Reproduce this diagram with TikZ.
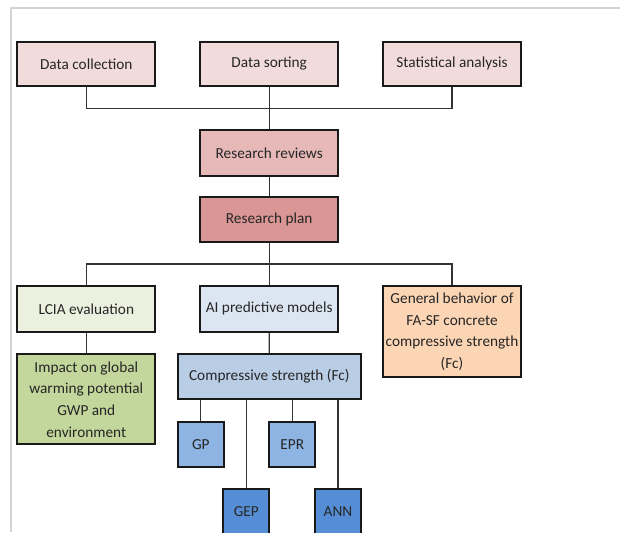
\documentclass[tikz,border=0pt]{standalone}
\usepackage{fontspec}
\setmainfont{Carlito}
\definecolor{cdata}{HTML}{F2DCDB}
\definecolor{crev}{HTML}{E6B9B8}
\definecolor{cplan}{HTML}{D99694}
\definecolor{clcia}{HTML}{EBF1DE}
\definecolor{cai}{HTML}{DCE6F2}
\definecolor{cgen}{HTML}{FCD5B5}
\definecolor{cimp}{HTML}{C3D69B}
\definecolor{ccs}{HTML}{B9CDE5}
\definecolor{cmod}{HTML}{8EB4E3}
\definecolor{cmodd}{HTML}{558ED5}
\definecolor{cframe}{HTML}{D4D4D4}
\begin{document}
\begin{tikzpicture}[x=1pt,y=-1pt,
  box/.style={draw=black!90, line width=1.8pt, inner sep=1pt, align=center,
    font=\fontsize{15.3}{21.7}\selectfont, text=black!85},
  conn/.style={draw=black!80, line width=1.2pt}]
\useasboundingbox (0,0) rectangle (620,532);
\begin{scope}
\clip (0,0) rectangle (620,532);
\draw[cframe, line width=1.2pt] (11,532) -- (11,8) -- (620,8);
% top row
\node[box, fill=cdata, minimum width=138pt, minimum height=44.3pt] (dc) at (86.3,63.8) {Data collection};
\node[box, fill=cdata, minimum width=138.3pt, minimum height=44.3pt] (ds) at (269.2,63.8) {Data sorting};
\node[box, fill=cdata, minimum width=137.4pt, minimum height=44.3pt] (sa) at (452,63.8) {Statistical analysis};
\node[box, fill=crev, minimum width=138.3pt, minimum height=45.7pt] (rr) at (269.2,152.8) {Research reviews};
\node[box, fill=cplan, minimum width=138.3pt, minimum height=45.6pt] (rp) at (269.2,219.5) {Research plan};
% second row
\node[box, fill=clcia, minimum width=138pt, minimum height=45.7pt] (lcia) at (86.3,308.8) {LCIA evaluation};
\node[box, fill=cai, minimum width=138.3pt, minimum height=45.7pt] (ai) at (269.2,308.8) {AI predictive models};
\node[box, fill=cgen, minimum width=137.4pt, minimum height=91.3pt] (gen) at (452,331.7) {General behavior of\\FA-SF concrete\\compressive strength\\(Fc)};
\node[box, fill=cimp, minimum width=138pt, minimum height=90pt] (imp) at (86.3,399.3) {Impact on global\\warming potential\\GWP and\\environment};
\node[box, fill=ccs, minimum width=183.3pt, minimum height=44.7pt] (cs) at (269.3,376.7) {Compressive strength (Fc)};
\node[box, fill=cmod, minimum width=46.3pt, minimum height=45.3pt] (gp) at (200.8,444.7) {GP};
\node[box, fill=cmod, minimum width=46pt, minimum height=45.3pt] (epr) at (292.3,444.7) {EPR};
\node[box, fill=cmodd, minimum width=46pt, minimum height=45.3pt] (gep) at (246.3,512) {GEP};
\node[box, fill=cmodd, minimum width=46pt, minimum height=45.3pt] (ann) at (338,512) {ANN};
% connectors
\coordinate (j1) at (269.2,108.3);
\coordinate (j2) at (269.2,264);
\draw[conn] (dc.south) |- (j1) -| (sa.south);
\draw[conn] (ds.south) -- (rr.north);
\draw[conn] (rr.south) -- (rp.north);
\draw[conn] (rp.south) -- (ai.north);
\draw[conn] (lcia.north) |- (j2) -| (gen.north);
\draw[conn] (lcia.south) -- (imp.north);
\draw[conn] (ai.south) -- (cs.north);
\draw[conn] (gp.north) -- (gp.north |- cs.south);
\draw[conn] (epr.north) -- (epr.north |- cs.south);
\draw[conn] (gep.north) -- (gep.north |- cs.south);
\draw[conn] (ann.north) -- (ann.north |- cs.south);
\end{scope}
\end{tikzpicture}
\end{document}
